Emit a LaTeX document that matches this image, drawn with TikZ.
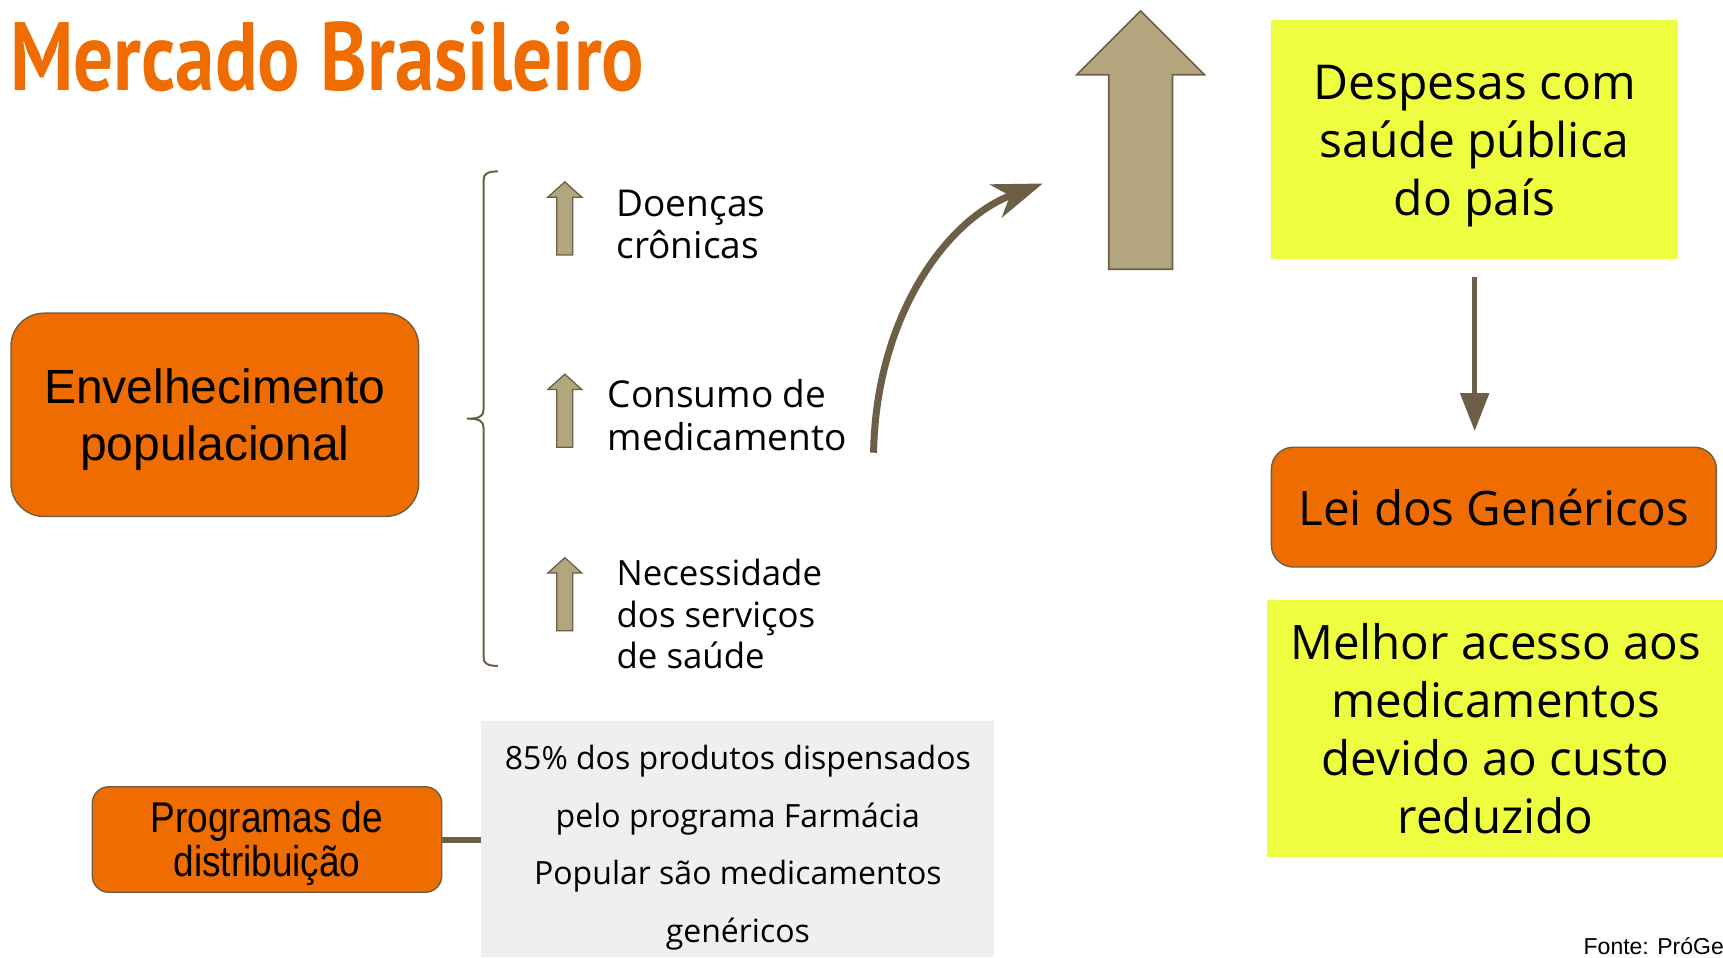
\documentclass[tikz,border=0pt]{standalone}
\usepackage{graphicx}
\usepackage{fontspec}
\setmainfont{Open Sans}
\newfontfamily\arialf{Liberation Sans}
\newfontfamily\titlef{PT Sans}
\usetikzlibrary{arrows.meta}
\definecolor{orng}{RGB}{239,108,0}
\definecolor{brn}{RGB}{108,95,70}
\definecolor{tanfill}{RGB}{179,166,127}
\definecolor{ylw}{RGB}{238,253,63}
\definecolor{gry}{RGB}{239,239,239}
\newcommand{\smallup}[2]{%
  \draw[brn, fill=tanfill, line width=1.3pt] (#1,#2) -- (#1+15.5,#2+14) -- (#1+7.3,#2+14) -- (#1+7.3,#2+66.5) -- (#1-7.3,#2+66.5) -- (#1-7.3,#2+14) -- (#1-15.5,#2+14) -- cycle;}
\begin{document}
\begin{tikzpicture}[x=1.099pt,y=-1.099pt,
  obox/.style={draw=brn, line width=1.4pt, fill=orng, rounded corners=#1, inner sep=0pt, align=center},
  obox/.default=20pt,
  ybox/.style={fill=ylw, inner sep=0pt, align=center},
  gbox/.style={fill=gry, inner sep=0pt, align=center},
  itemtxt/.style={anchor=north west, inner sep=0pt, align=left, font=\fontsize{37}{42.5}\selectfont},
  conn/.style={draw=brn, line width=6pt}]
\useasboundingbox (0,0) rectangle (1568,871);

% title
\node[anchor=base west, inner sep=0pt, text=orng] (title) at (9,82)
  {\resizebox{634pt}{69pt}{\titlef\bfseries Mercado Brasileiro}};

% left main box
\node[obox=33pt, minimum width=407.7pt, minimum height=203.3pt] (env) at (195.5,377.5) {};
\node[inner sep=0pt, align=center, font=\arialf\fontsize{48}{57}\selectfont] (envtxt) at (195.5,381.5) {Envelhecimento\\populacional};

% brace
\draw[brn, line width=2pt] (453,156) .. controls (444,156) and (440,158) .. (440,164) -- (440,373)
  .. controls (440,379) and (436,381) .. (425,381) .. controls (436,381) and (440,383) .. (440,389)
  -- (440,598) .. controls (440,604) and (444,606) .. (453,606);

% small arrows
\smallup{514}{165.5}
\smallup{514}{340.5}
\smallup{514}{507.5}

% item texts
\node[itemtxt] (t1) at (561,172.5) {Doenças\\crônicas};
\node[itemtxt] (t2) at (553,345.5) {Consumo de\\medicamento};
\node[itemtxt, font=\fontsize{34.8}{41.8}\selectfont] (t3) at (561,508.5) {Necessidade\\dos serviços\\de saúde};

% curved arrow
\coordinate (cs) at (795,412);
\coordinate (ce) at (949,167);
\draw[brn, line width=7pt, -{Stealth[length=50pt,width=35pt,inset=15pt]}] (cs) .. controls (797,290) and (860,200) .. (ce);

% big up arrow
\draw[brn, fill=tanfill, line width=1.6pt] (1038,10) -- (1096,68) -- (1067,68) -- (1067,245) -- (1009,245) -- (1009,68) -- (980,68) -- cycle;

% right side
\node[ybox, minimum width=406.6pt, minimum height=239.6pt] (desp) at (1342,127) {};
\node[inner sep=0pt, align=center, font=\fontsize{48}{58}\selectfont] (desptxt) at (1342,133) {Despesas com\\saúde pública\\do país};
\node[obox=22pt, minimum width=445.1pt, minimum height=119.8pt,
  font=\fontsize{47.5}{57}\selectfont] (lei) at (1359.5,461.5) {Lei dos Genéricos};
\node[ybox, minimum width=457.2pt, minimum height=257.2pt,
  font=\fontsize{47.5}{58}\selectfont] (melhor) at (1361,663) {Melhor acesso aos\\medicamentos\\devido ao custo\\reduzido};
\draw[brn, line width=5.5pt, shorten <=17.6pt, shorten >=15.4pt, -{Triangle[length=38pt,width=28pt]}]
  (desp.south) -- (desp.south |- lei.north);

% bottom left
\node[obox=16.5pt, minimum width=349.5pt, minimum height=105.5pt] (prog) at (243,764) {};
\node[inner sep=0pt, align=center, font=\arialf\fontsize{43}{44}\selectfont] (progtxt) at (243,768)
  {\scalebox{0.86}[1]{Programas de}\\\scalebox{0.86}[1]{distribuição}};
\node[gbox, minimum width=513.2pt, minimum height=236.3pt] (grey) at (671.5,763.5) {};
\node[anchor=north, inner sep=0pt, align=center, font=\fontsize{32}{57.7}\selectfont] (greytxt) at (671.5,678)
  {85\% dos produtos dispensados\\pelo programa Farmácia\\Popular são medicamentos\\genéricos};
\draw[conn] (prog.east) -- (prog.east -| grey.west);

% source
\node[anchor=base west, inner sep=0pt, font=\arialf\fontsize{23}{27}\selectfont] (fonte) at (1441,869) {Fonte: PróGe};
\end{tikzpicture}
\end{document}
